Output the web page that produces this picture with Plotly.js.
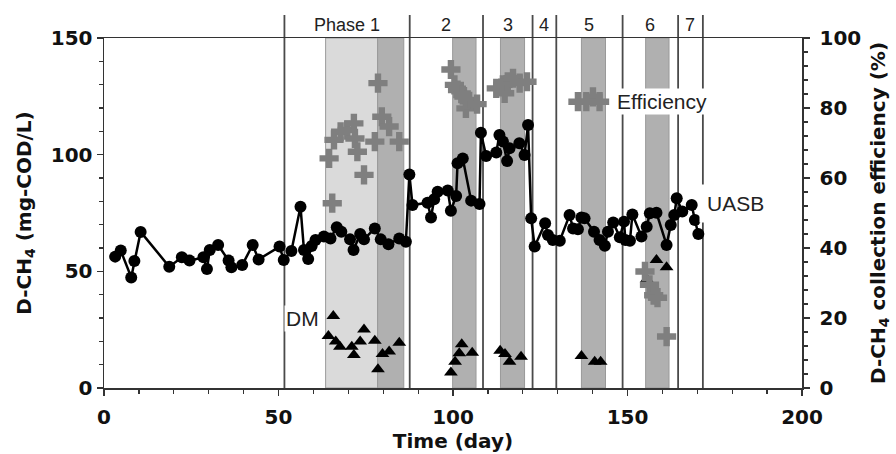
<!DOCTYPE html>
<html>
<head>
<meta charset="utf-8">
<script src="https://cdn.plot.ly/plotly-3.0.1.min.js"></script>
<style>html,body{margin:0;padding:0;background:#fff;}#chart{width:896px;height:454px;}</style>
</head>
<body>
<div id="chart"></div>
<script>
// UASB dissolved methane (mg-COD/L)
var uasbDay = [3.2,4.8,7.8,8.7,10.5,18.7,22.3,24.5,28.5,29.5,30.3,32.7,35.7,36.5,39.6,42.6,44.3,50.3,51.5,53.7,56.3,57.3,58.5,59.5,60.6,63,64.9,66.7,68,70.5,71.5,73.4,74.5,77.6,79.3,81.5,84.6,86.5,87.5,88.4,92.7,93.7,94.6,95.6,98.5,99.4,100.9,101.3,102.8,105.2,107.6,108,109.5,112.4,113.3,114.3,115.5,116.2,119,120.5,121.5,122.4,123.4,126.4,127.2,128.6,130.6,133.4,134.4,135.8,136.8,137.7,140.4,142,143.5,144.4,145.9,147.8,149.0,149.4,150.7,151.4,154,155.5,156.4,158.3,161.2,162.4,163.4,164.1,165.7,168.4,169.3,170.3];
var uasbVal = [56.3,58.9,47.4,54.4,66.9,52,56,54.6,56,51,59.1,61.3,54.6,51.7,52.7,61.3,55.1,60.6,54.9,58.7,77.7,59.1,55.3,60.9,63.4,64.9,64.1,68.9,67,63.7,59.1,66,63.7,68.4,63.7,61.6,64.1,62.7,91.5,78.4,79.4,73.1,80.9,84.1,84.6,76,82.3,96.3,98.4,80.3,78.9,109.4,99.4,100.9,108.4,105.6,97.3,102.7,104.9,99.9,112.7,72.7,60.6,70.6,65.6,63.4,63.1,74.1,68.4,68,73.1,72.7,67,63.4,61,67,70.9,64.6,71.3,63.4,63.1,74.4,64.9,69.1,74.9,75.1,61.3,69.9,74.1,81.3,75.6,78.4,72,66];

// DM dissolved methane (mg-COD/L)
var dmDay = [64.3,65.7,66.4,67.6,71,71.6,73.4,74.5,77.6,78.5,79.8,81.7,84.6,99.4,100.6,101.8,102.5,105.5,113.5,114.9,116.2,119.5,136.8,140.6,142.3,155.5,158.3,161.2];
var dmVal = [22.3,30.9,19.9,17.7,17.7,14.1,19.9,25.1,20.3,8,14.6,15.6,19.4,6.6,11.3,14.9,18.7,15.1,16,14.6,11.3,13.4,13.7,11.3,11.3,46.6,54.9,51.7];

// D-CH4 collection efficiency (%)
var effDay = [64.5,65.4,65.9,67.8,69.7,71.6,71.9,72.6,74.5,77.6,78.5,79.6,81.7,84.6,99.4,100.4,101.3,102.8,103.7,104.2,106.9,112.4,114.3,114.8,115.7,117.2,119.1,121.2,135.8,138.2,140.1,142,155,156.3,157.5,158.6,161.2];
var effVal = [65.6,52.8,70.9,73.2,73.7,75.6,71.3,67.5,60.9,70.4,87.1,77.5,74.7,70.4,91,86.6,85.1,83.7,79.9,82.3,81.1,85.6,86.6,84.2,87.5,88.5,87.1,87.5,81.8,81.8,83.2,81.8,33.3,29.5,26.5,25.8,14.7];

// Phase boundaries (day) and labels
var phaseEdges = [51.7,87.6,108.6,122.8,129.6,148.6,164.5,171.6];
var phaseLabels = ['Phase 1','2','3','4','5','6','7'];
// Shaded periods (day)
var lightBand = [63.5,78.4];
var darkBandStart = [78.4,99.9,113.6,136.8,155.2];
var darkBandEnd = [85.9,106.6,120.5,143.7,161.9];

var shapes = [];
shapes.push({type:'rect',xref:'x',yref:'paper',x0:lightBand[0],x1:lightBand[1],y0:0,y1:1,
  fillcolor:'#dadada',line:{color:'#9a9a9a',width:1},layer:'below'});
for (var i=0;i<darkBandStart.length;i++){
  shapes.push({type:'rect',xref:'x',yref:'paper',x0:darkBandStart[i],x1:darkBandEnd[i],y0:0,y1:1,
    fillcolor:'#b0b0b0',line:{color:'#999999',width:1},layer:'below'});
}
for (var j=0;j<phaseEdges.length;j++){
  shapes.push({type:'line',xref:'x',yref:'paper',x0:phaseEdges[j],x1:phaseEdges[j],y0:0,y1:1.066,
    line:{color:'#4a4a4a',width:1.8},layer:'below'});
}

var annotations = [];
for (var k=0;k<phaseLabels.length;k++){
  annotations.push({xref:'x',yref:'paper',x:(phaseEdges[k]+phaseEdges[k+1])/2,y:1.037,yanchor:'middle',
    text:phaseLabels[k],showarrow:false,font:{family:'Liberation Sans, Arial',size:18,color:'#222'}});
}
var lblFont = {family:'Liberation Sans, Arial',size:21,color:'#222'};
annotations.push({xref:'x',yref:'y',x:57,y:30,text:'DM',showarrow:false,font:lblFont,bgcolor:'#fff',borderpad:1});
annotations.push({xref:'x',yref:'y2',x:160,y:82,text:'Efficiency',showarrow:false,font:lblFont,bgcolor:'#fff',borderpad:1});
annotations.push({xref:'x',yref:'y',x:181,y:79,text:'UASB',showarrow:false,font:lblFont,bgcolor:'#fff',borderpad:7});

var traces = [
  {x:effDay,y:effVal,yaxis:'y2',mode:'markers',type:'scatter',
   marker:{symbol:'cross',size:16,color:'#7f7f7f'}},
  {x:uasbDay,y:uasbVal,mode:'lines+markers',type:'scatter',
   line:{color:'#000',width:2.5},marker:{symbol:'circle',size:12,color:'#000'}},
  {x:dmDay,y:dmVal,mode:'markers',type:'scatter',
   marker:{symbol:'triangle-up',size:12,color:'#000'}}
];

var tickFont = {family:'DejaVu Sans',size:20,color:'#111',weight:'bold'};
var titleFont = {family:'DejaVu Sans',size:20,color:'#111',weight:'bold'};

var layout = {
  width:896,height:454,
  margin:{l:104,r:94,t:38,b:66},
  paper_bgcolor:'#fff',plot_bgcolor:'#fff',
  showlegend:false,
  xaxis:{range:[0,200],tickvals:[0,50,100,150,200],ticks:'outside',ticklen:6,tickwidth:1.5,tickcolor:'#333',
    minor:{dtick:10,tick0:0,ticks:'outside',ticklen:4,tickwidth:1.2,tickcolor:'#333'},
    showline:true,linecolor:'#333',linewidth:1.5,mirror:true,showgrid:false,zeroline:false,
    tickfont:tickFont,ticklabelstandoff:4,
    title:{text:'Time (day)',font:titleFont,standoff:2}},
  yaxis:{range:[0,150],tickvals:[0,50,100,150],ticks:'outside',ticklen:6,tickwidth:1.5,tickcolor:'#333',
    minor:{dtick:10,tick0:0,ticks:'outside',ticklen:4,tickwidth:1.2,tickcolor:'#333'},
    showline:true,linecolor:'#333',linewidth:1.5,showgrid:false,zeroline:false,
    tickfont:tickFont,
    title:{text:'D-CH<sub>4</sub> (mg-COD/L)',font:titleFont,standoff:14}},
  yaxis2:{range:[0,100],tickvals:[0,20,40,60,80,100],overlaying:'y',side:'right',ticks:'outside',ticklen:6,tickwidth:1.5,tickcolor:'#333',
    minor:{dtick:4,tick0:0,ticks:'outside',ticklen:4,tickwidth:1.2,tickcolor:'#333'},
    showline:true,linecolor:'#333',linewidth:1.5,showgrid:false,zeroline:false,
    tickfont:tickFont,ticklabelstandoff:6,
    title:{text:'D-CH<sub>4</sub> collection efficiency (%)',font:titleFont,standoff:10}},
  shapes:shapes,
  annotations:annotations
};

Plotly.newPlot('chart',traces,layout,{displayModeBar:false,staticPlot:true});
</script>
</body>
</html>
